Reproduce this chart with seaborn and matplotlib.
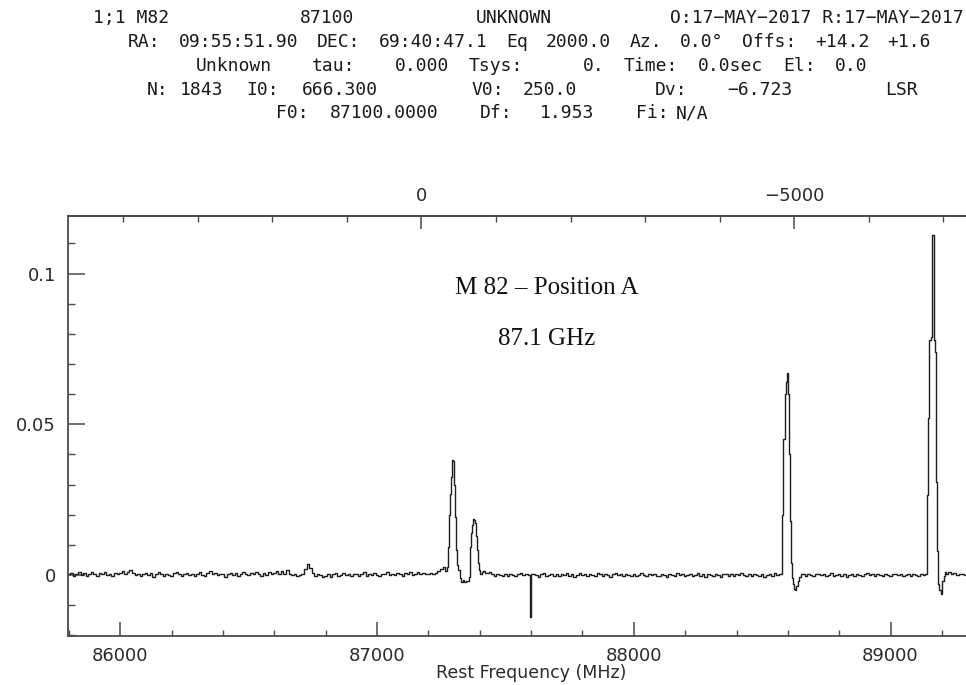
import numpy as np
import pandas as pd
import matplotlib
matplotlib.use("Agg")
import matplotlib.pyplot as plt
from matplotlib.ticker import MultipleLocator, FixedLocator, FuncFormatter
from matplotlib.font_manager import FontProperties
import seaborn as sns

# ---------------- data (flux in units of 1e-3) ----------------
baseline_start_mhz = 85800
baseline_step_mhz = 10
baseline_flux = [
    0.3, 0.8, -0.2, 0.5, 1.0, 0.1, 0.6, -0.3, 0.4, 0.9,
    0.2, -0.4, 0.7, 0.3, 1.1, 0.0, 0.5, -0.2, 0.8, 0.4,
    0.6, 1.3, 0.2, 0.9, 1.6, 0.7, 0.1, 0.5, -0.3, 0.4,
    0.8, 0.0, 0.6, -0.5, 0.3, 0.9, 0.2, -0.2, 0.5, 0.1,
    -0.3, 0.6, 1.0, 0.2, -0.4, 0.3, 0.7, 0.0, 0.5, -0.2,
    0.4, 0.9, 0.1, -0.3, 0.6, 1.2, 0.3, 0.8, -0.1, 0.5,
    0.2, -0.5, 0.4, 0.8, 0.0, 0.6, -0.2, 0.3, 1.0, 0.4,
    -0.1, 0.7, 0.2, 1.1, 0.5, -0.3, 0.6, 0.1, 0.9, 0.3,
    0.6, 1.5, 0.4, 1.3, 0.2, 1.6, 0.5, 0.0, 0.3, -0.2,
    0.1, 0.5, 2.0, 3.8, 2.5, 0.6, -0.4, 0.3, 0.0, -0.6,
    -0.2, 0.4, -0.5, 0.2, 0.6, -0.3, 0.1, 0.8, -0.1, 0.3,
    -0.4, 0.2, 0.5, -0.2, 0.3, 1.0, -0.3, 0.4, 0.0, 0.6,
    0.1, -0.3, 0.5, 0.2, 0.9, -0.1, 0.4, 0.0, 0.7, 0.2,
    -0.2, 0.6, 0.3, 1.0, 0.0, 0.5, 0.9, 0.2, 0.6, 0.3,
    0.4, 0.8, 0.2, 0.6, 1.2, 2.0, 2.7, 1.5, 1.0, 1.0,
    1.0, 1.0, 1.0, 1.0, 1.0, 1.0, 1.0, 1.0, 1.0, 1.0,
    1.0, 1.0, 1.0, 0.6, 1.0, 0.2, -0.3, 0.4, 0.1, -0.4,
    0.3, -0.2, 0.5, 0.0, -0.4, 0.2, 0.7, -0.1, 0.3, 0.0,
    -0.3, 0.4, 0.1, -0.5, 0.2, 0.6, -0.2, 0.0, 0.5, -0.4,
    0.2, -0.3, 0.4, 0.0, 0.8, -0.2, 0.3, -0.5, 0.1, 0.6,
    -0.1, 0.3, -0.4, 0.5, 0.0, -0.3, 0.6, 0.2, -0.2, 0.4,
    0.0, -0.5, 0.3, 0.7, -0.1, 0.2, -0.4, 0.5, 0.1, -0.3,
    0.4, -0.2, 0.1, 0.8, 0.0, -0.3, 0.5, -0.1, 0.3, -0.4,
    -0.2, 0.3, 0.0, -0.5, 0.4, 0.1, -0.3, 0.6, -0.1, 0.2,
    -0.4, 0.1, 0.5, -0.2, 0.0, 0.7, -0.3, 0.2, -0.5, 0.3,
    0.0, -0.3, 0.4, 0.1, -0.6, 0.2, 0.5, -0.2, 0.3, -0.4,
    0.2, -0.1, 0.6, 0.0, -0.4, 0.3, -0.2, 0.5, 0.1, -0.3,
    0.3, -0.5, 0.1, 0.4, -0.2, 0.6, 0.0, 0.2, 0.0, 0.0,
    0.0, 0.0, 0.0, 0.0, 0.0, 0.0, 0.3, -0.2, 0.4, 0.0,
    -0.3, 0.2, 0.5, -0.1, 0.3, -0.4, 0.1, 0.6, -0.2, 0.0,
    0.4, -0.3, 0.2, -0.5, 0.1, 0.5, -0.2, 0.3, 0.0, -0.4,
    0.2, 0.6, -0.1, 0.3, -0.3, 0.4, 0.0, -0.2, 0.5, 0.1,
    -0.3, 0.2, 0.4, -0.1, 0.3, -0.4, 0.1, 0.5, -0.2, 0.2,
    0.0, -0.3, 0.4, 0.1, 0.2, -0.2, 0.3, 0.0, -0.4, 0.1,
    -0.5, 0.2, 0.4, 0.9, 0.2, 0.6, -0.1, 0.5, 0.3, 0.0,
]

# spectral-line features (frequency MHz, flux 1e-3)
line1_freq = [87268, 87273, 87278, 87283, 87287, 87291, 87295, 87299, 87303, 87306,
              87310, 87315, 87319, 87324, 87330, 87336, 87342, 87348, 87354, 87358,
              87362, 87366, 87370, 87374, 87378, 87382, 87386, 87390, 87394, 87398,
              87404, 87410, 87416, 87421]
line1_flux = [1.2, 2.6, 9.4, 20.0, 27.0, 32.6, 38.2, 38.0, 30.0, 19.3,
              8.3, 3.5, 1.7, -1.1, -2.2, -1.6, -2.4, -1.9, -2.1, -0.5,
              9.4, 14.0, 16.6, 18.6, 18.4, 17.3, 13.0, 8.3, 4.0, 1.7,
              0.5, 0.9, 1.2, 0.6]
spike_freq = [87592, 87598, 87603]
spike_flux = [0.0, -13.8, 0.2]
line3_freq = [88577, 88581, 88585, 88589, 88593, 88597, 88601, 88605, 88609, 88613,
              88617, 88621, 88626, 88631, 88636, 88641, 88647, 88653]
line3_flux = [0.3, 20.0, 45.0, 60.0, 64.0, 67.0, 60.0, 40.0, 18.0, 4.0,
              -1.0, -3.0, -4.5, -5.0, -3.5, -2.0, -0.5, 0.2]
line4_freq = [89140, 89144, 89149, 89154, 89158, 89162, 89166, 89170, 89174, 89178,
              89182, 89187, 89193, 89199, 89205, 89211, 89216]
line4_flux = [0.2, 26.5, 52.0, 78.0, 79.0, 112.8, 112.8, 78.0, 74.0, 31.0,
              8.0, -3.0, -5.0, -6.2, -2.0, -0.3, 1.0]

feature_windows = [(87265, 87425), (87588, 87606), (88573, 88656), (89137, 89219)]

# ---------------- assemble ----------------
base_f = baseline_start_mhz + baseline_step_mhz * np.arange(len(baseline_flux))
base_v = np.array(baseline_flux)
keep = np.ones(len(base_f), bool)
for a, b in feature_windows:
    keep &= ~((base_f >= a) & (base_f <= b))
freq = np.concatenate([base_f[keep], line1_freq, spike_freq, line3_freq, line4_freq])
flux = np.concatenate([base_v[keep], line1_flux, spike_flux, line3_flux, line4_flux]) * 1e-3
df = pd.DataFrame({"freq": freq, "flux": flux}).sort_values("freq").reset_index(drop=True)

# ---------------- plot ----------------
sns.set_theme(style="white")
plt.rcParams["font.family"] = ["DejaVu Sans"]
W, H = 966, 685
fig = plt.figure(figsize=(W / 100, H / 100), dpi=100)
fig.patch.set_facecolor("white")
ax_left, ax_right, ax_top, ax_bot = 68.3, 966.0, 216.0, 635.7
ax = fig.add_axes([ax_left / W, 1 - ax_bot / H, (ax_right - ax_left) / W, (ax_bot - ax_top) / H])

sns.lineplot(data=df, x="freq", y="flux", ax=ax, estimator=None, sort=False,
             drawstyle="steps-mid", color="#1e1e1e", linewidth=1.0)

ax.set_xlim(85797, 89294)
ax.set_ylim(-0.0201, 0.1191)

spine_c = "#4a4a4a"
for s in ["left", "bottom", "top"]:
    ax.spines[s].set_color(spine_c)
    ax.spines[s].set_linewidth(1.3)
ax.spines["right"].set_visible(False)

ax.xaxis.set_major_locator(MultipleLocator(1000))
ax.xaxis.set_minor_locator(MultipleLocator(200))
ax.yaxis.set_major_locator(FixedLocator([0, 0.05, 0.1]))
ax.yaxis.set_minor_locator(MultipleLocator(0.01))
ax.yaxis.set_major_formatter(FuncFormatter(lambda v, p: "%g" % round(v, 3)))
ax.xaxis.set_major_formatter(FuncFormatter(lambda v, p: "%d" % v))

tc = "#2a2a2a"
ax.tick_params(axis="x", which="major", direction="in", length=10, width=1.1, color=spine_c,
               pad=8, labelsize=13, labelcolor=tc, top=False, bottom=True)
ax.tick_params(axis="x", which="minor", direction="in", length=4.5, width=1.0, color=spine_c,
               top=False, bottom=True)
ax.tick_params(axis="y", which="major", direction="in", length=12, width=1.1, color=spine_c,
               pad=9, labelsize=13, labelcolor=tc, right=False, left=True)
ax.tick_params(axis="y", which="minor", direction="in", length=5, width=1.0, color=spine_c,
               right=False, left=True)

ax.set_xlabel("Rest Frequency (MHz)", fontsize=12.5, color=tc, labelpad=0)
ax.xaxis.label.set_va("center")
ax.xaxis.set_label_coords((531 - ax_left) / (ax_right - ax_left), -(673 - ax_bot) / (ax_bot - ax_top))
ax.set_ylabel("")

# top velocity axis
V0, F0, DV, DF = 250.0, 87100.0, -6.723, 1.953
def f2v(f):
    return V0 + (np.asarray(f) - F0) * DV / DF
def v2f(v):
    return F0 + (np.asarray(v) - V0) * DF / DV
sec = ax.secondary_xaxis("top", functions=(f2v, v2f))
sec.spines["top"].set_color(spine_c)
sec.spines["top"].set_linewidth(1.3)
sec.xaxis.set_major_locator(FixedLocator([0, -5000]))
sec.xaxis.set_minor_locator(FixedLocator([4000, 3000, 2000, 1000, -1000, -2000, -3000, -4000, -6000, -7000]))
sec.xaxis.set_major_formatter(FuncFormatter(lambda v, p: ("%d" % v).replace("-", "\u2212")))
sec.tick_params(axis="x", which="major", direction="in", length=9, width=1.1, color=spine_c,
                pad=8, labelsize=13, labelcolor=tc)
sec.tick_params(axis="x", which="minor", direction="in", length=4.5, width=1.0, color=spine_c)

# header text (wide, thin monospace look)
HSIZE = 13
hprop = FontProperties(family="DejaVu Sans Mono", size=HSIZE)
renderer = fig.canvas.get_renderer()

def textw(s):
    w, _, _ = renderer.get_text_width_height_descent(s + "|", hprop, ismath=False)
    w0, _, _ = renderer.get_text_width_height_descent("|", hprop, ismath=False)
    return w - w0

def put(x, y, s, ha="left"):
    # y is the visual centre of the line; words share a common baseline
    fig.text(x / W, 1 - (y + 5) / H, s, ha=ha, va="baseline", fontproperties=hprop, color="#1a1a1a")

def spread(s, x0, x1, y):
    """place the words of s so that the line spans x0..x1"""
    words, starts, i = [], [], 0
    for w in s.split():
        j = s.index(w, i)
        words.append(w)
        starts.append(j)
        i = j + len(w)
    wsum = sum(textw(w) for w in words)
    gaps = [len(s[starts[k - 1] + len(words[k - 1]):starts[k]]) for k in range(1, len(words))]
    unit = (x1 - x0 - wsum) / sum(gaps)
    x = x0
    for k, w in enumerate(words):
        put(x, y, w)
        if k < len(gaps):
            x += textw(w) + gaps[k] * unit

put(93, 18, "1;1 M82")
put(300, 18, "87100")
put(476, 18, "UNKNOWN")
put(964, 18, "O:17\u2212MAY\u22122017 R:17\u2212MAY\u22122017", ha="right")
spread("RA: 09:55:51.90 DEC: 69:40:47.1 Eq 2000.0 Az. 0.0\u00b0 Offs: +14.2 +1.6", 128, 931, 42)
spread("Unknown    tau:    0.000  Tsys:      0.  Time:  0.0sec  El:  0.0", 196, 868, 66)
spread("N: 1843  I0:  666.300", 147, 378, 90)
spread("V0:   250.0", 472, 577, 90)
spread("Dv:  \u22126.723", 655, 792, 90)
put(918, 90, "LSR", ha="right")
spread("F0:   87100.0000      Df:    1.953      Fi: N/A", 276, 708, 113)

# annotation
fig.text(547 / W, 1 - 288 / H, "M 82 \u2013 Position A", ha="center", va="center",
         fontsize=18, family="Liberation Serif", color="#111111")
fig.text(547 / W, 1 - 339 / H, "87.1 GHz", ha="center", va="center",
         fontsize=18, family="Liberation Serif", color="#111111")

fig.savefig("out.png", dpi=100, facecolor="white")
